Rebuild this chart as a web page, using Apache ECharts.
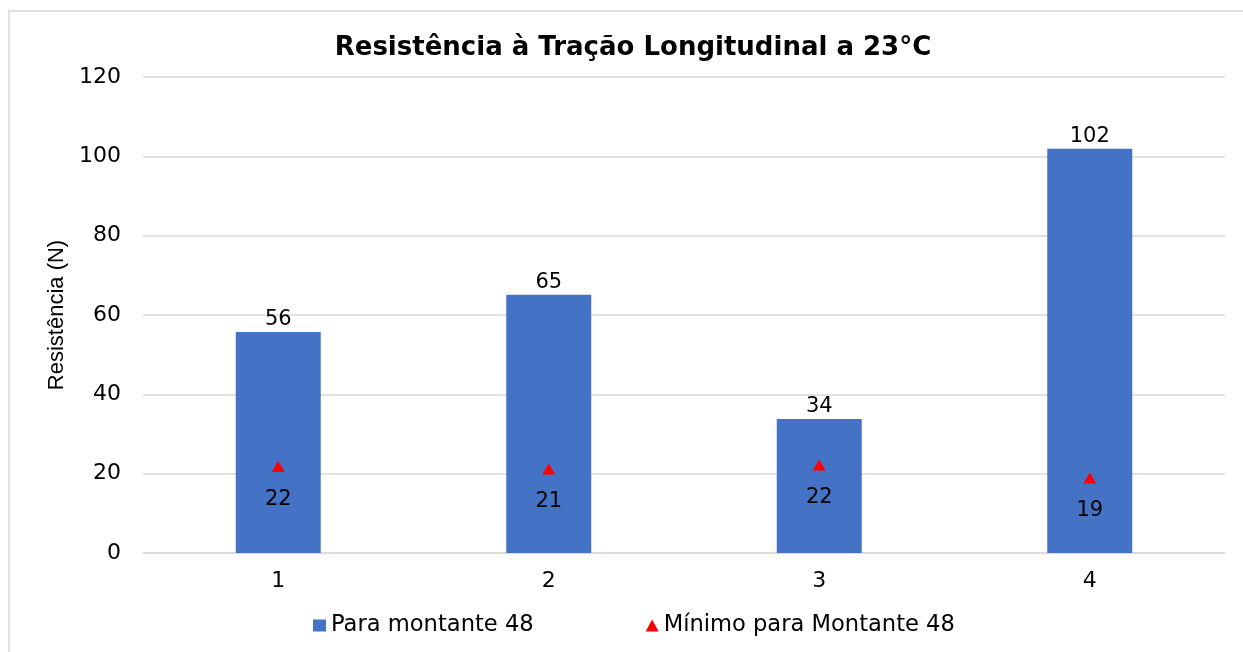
<!DOCTYPE html>
<html>
<head>
<meta charset="utf-8">
<script src="https://cdn.jsdelivr.net/npm/echarts@6/dist/echarts.min.js"></script>
<style>
html,body{margin:0;padding:0;background:#fff;}
#chart{width:1243px;height:652px;}
</style>
</head>
<body>
<div id="chart"></div>
<script>
const categories = ['1', '2', '3', '4'];
const barValues = [55.7, 65.1, 33.8, 101.9];
const minValues = [21.8, 21.2, 22.2, 18.9];
const yTicks = { min: 0, max: 120, interval: 20 };
const titleText = 'Resistência à Tração Longitudinal a 23°C';
const yName = 'Resistência (N)';
const barName = 'Para montante 48';
const minName = 'Mínimo para Montante 48';

const chart = echarts.init(document.getElementById('chart'));
const txt = { fontFamily: 'DejaVu Sans', fontSize: 21, color: '#000' };
chart.setOption({
  animation: false,
  backgroundColor: '#fff',
  graphic: [{
    type: 'rect', left: 6.5, top: 8.5, shape: { width: 1400, height: 800 },
    style: { fill: 'none', stroke: '#d9d9d9', lineWidth: 1.5 }, silent: true, z: -1
  }],
  title: {
    text: titleText, left: 628, top: 30, textAlign: 'center',
    textStyle: { fontFamily: 'DejaVu Sans', fontWeight: 'bold', fontSize: 26, color: '#000' }
  },
  legend: {
    left: 313, top: 614, padding: 0, itemWidth: 13, itemHeight: 12, itemGap: 112,
    textStyle: Object.assign({}, txt, { fontSize: 22.6 }),
    data: [{ name: barName, icon: 'rect' }, { name: minName, icon: 'triangle' }]
  },
  grid: { left: 143, right: 18, top: 77, bottom: 99 },
  xAxis: {
    type: 'category', data: categories,
    axisLine: { lineStyle: { color: '#d9d9d9', width: 1.5 } },
    axisTick: { show: false },
    axisLabel: Object.assign({}, txt, { fontSize: 22, margin: 17 })
  },
  yAxis: {
    type: 'value', min: yTicks.min, max: yTicks.max, interval: yTicks.interval,
    name: yName, nameLocation: 'middle', nameGap: 75,
    nameTextStyle: { fontFamily: 'Liberation Sans', fontSize: 22, color: '#000' },
    axisLine: { show: false }, axisTick: { show: false },
    axisLabel: Object.assign({}, txt, { fontSize: 22, margin: 22 }),
    splitLine: { lineStyle: { color: '#d9d9d9', width: 1.5 } }
  },
  series: [{
    name: barName, type: 'bar', data: barValues, barWidth: 85,
    itemStyle: { color: '#4472c4' },
    label: { show: true, position: 'top', distance: 2, ...txt, formatter: p => Math.round(p.value) }
  }, {
    name: minName, type: 'scatter', data: minValues, symbol: 'triangle', symbolSize: [13, 11],
    itemStyle: { color: '#ff0000', opacity: 1 }, z: 5,
    label: { show: true, position: 'bottom', distance: 17, ...txt, formatter: p => Math.round(p.value) }
  }]
});
</script>
</body>
</html>
